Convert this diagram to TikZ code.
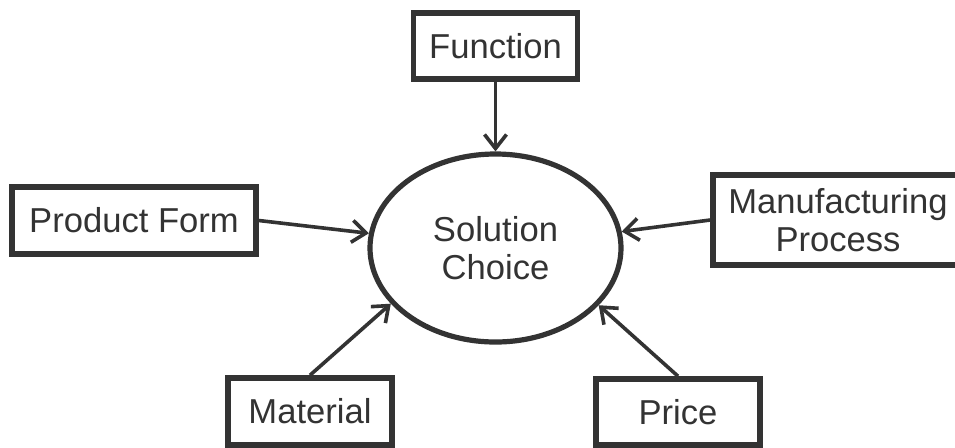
\documentclass[tikz,border=0pt]{standalone}
\usepackage{fontspec}
\setmainfont{Liberation Sans}
\usetikzlibrary{arrows.meta,shapes.geometric}
\definecolor{ink}{HTML}{333333}

\begin{document}
\begin{tikzpicture}[x=0.5pt,y=-0.5pt,
    every node/.style={font=\fontsize{17.3}{19}\selectfont,text=ink},
    factor/.style={draw=ink,line width=2.8pt,inner sep=0pt,align=center},
    link/.style={draw=ink,line width=1.8pt,-{Straight Barb[length=7pt,width=11pt]}}]
    \clip (0,0) rectangle (955,447); % page size
    % centre
    \node[ellipse,draw=ink,line width=2.6pt,inner sep=0pt,minimum width=125.5pt,minimum height=94pt,align=center] (sol) at (495.5,248) {Solution\\Choice};
    % factors
    \node[factor,minimum width=82pt,minimum height=33pt] (fn) at (495.5,46) {Function};
    \node[factor,minimum width=122pt,minimum height=33.5pt] (pf) at (134,220.5) {Product Form};
    \node[factor,minimum width=125pt,minimum height=45pt] (mp) at (838,220) {Manufacturing\\Process};
    \node[factor,minimum width=82pt,minimum height=33.5pt] (mat) at (310,411.5) {Material};
    \node[factor,minimum width=82pt,minimum height=33pt] (pr) at (678,412) {Price};
    % arrows
    \draw[link] (fn) -- (sol);
    \draw[link] (pf.east) -- (sol);
    \draw[link] (mp.west) -- (sol);
    \draw[link] (mat.north) -- (sol.208);
    \draw[link] (pr.north) -- (sol.-29);
\end{tikzpicture}
\end{document}
